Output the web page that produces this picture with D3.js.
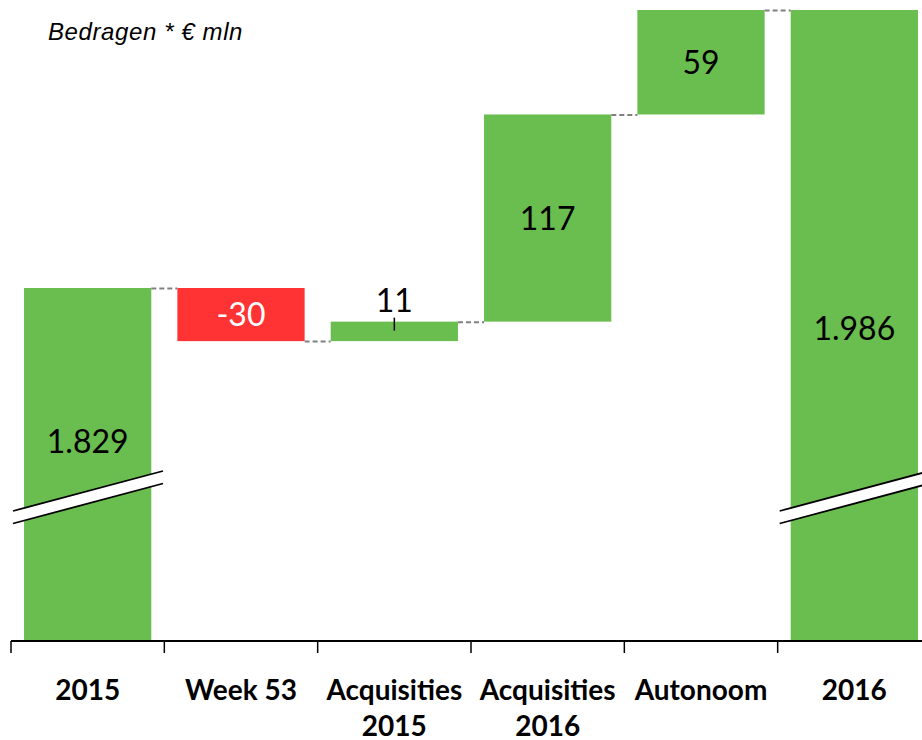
<!DOCTYPE html>
<html>
<head>
<meta charset="utf-8">
<script src="https://cdn.jsdelivr.net/npm/d3@7"></script>
<style>
  body { margin: 0; background: #fff; }
  svg { display: block; }
</style>
</head>
<body>
<div id="waterfall"></div>
<script>
// --------------------------------------
//  Data
// --------------------------------------

const categories = ["2015", "Week 53", "Acquisities 2015", "Acquisities 2016", "Autonoom", "2016"];
const values = [1829, -30, 11, 117, 59, 1986];
const isTotal = [true, false, false, false, false, true];
const labels = ["1.829", "-30", "11", "117", "59", "1.986"];

// --------------------------------------
//  Canvas
// --------------------------------------

const width = 922, height = 740;
const baseline = 641;

const svg = d3.select("#waterfall")
  .append("svg")
  .attr("width", width)
  .attr("height", height);

// running totals -> start/end of every bar
let running = 0;
const bars = categories.map((c, i) => {
  let start, end;
  if (isTotal[i]) { start = null; end = values[i]; running = values[i]; }
  else { start = running; end = running + values[i]; running = end; }
  return { cat: c, value: values[i], start, end, total: isTotal[i], label: labels[i] };
});

const x = d3.scaleBand()
  .domain(categories)
  .range([11, 931])
  .paddingInner(0.17)
  .paddingOuter(0.085);

// axis is broken: baseline sits at 1630
const y = d3.scaleLinear()
  .domain([1630.2, 1986])
  .range([baseline - 1, 10]);

const green = "#6abd4f", red = "#ff3333";

// bars
svg.selectAll("rect.bar")
  .data(bars)
  .join("rect")
    .attr("class", "bar")
    .attr("x", d => x(d.cat))
    .attr("width", x.bandwidth())
    .attr("y", d => d.total ? y(d.end) : y(Math.max(d.start, d.end)))
    .attr("height", d => d.total ? (baseline - y(d.end)) : Math.abs(y(d.start) - y(d.end)))
    .attr("fill", d => d.value < 0 ? red : green);

// dashed connectors
svg.selectAll("line.conn")
  .data(bars.slice(0, -1))
  .join("line")
    .attr("class", "conn")
    .attr("x1", d => x(d.cat) + x.bandwidth())
    .attr("x2", (d, i) => x(bars[i + 1].cat))
    .attr("y1", d => y(d.end) + 0.5)
    .attr("y2", d => y(d.end) + 0.5)
    .attr("stroke", "#808080")
    .attr("stroke-width", 2)
    .attr("stroke-dasharray", "5,3");

// break marks on total bars
const step = x.step();
bars.filter(d => d.total).forEach(d => {
  const x0 = x(d.cat) - step * 0.085 + 2;
  const x1 = x0 + 150;
  const yc = 491, dy = 20, gap = 12.5;
  const g = svg.append("g");
  g.append("path")
    .attr("d", `M${x0},${yc + dy} L${x1},${yc - dy} L${x1},${yc - dy + gap} L${x0},${yc + dy + gap} Z`)
    .attr("fill", "#fff");
  [0, gap].forEach(o => {
    g.append("line")
      .attr("x1", x0).attr("y1", yc + dy + o)
      .attr("x2", x1).attr("y2", yc - dy + o)
      .attr("stroke", "#000")
      .attr("stroke-width", 1.8);
  });
});

// value labels
const labelFont = "Lato, 'Open Sans', sans-serif";
svg.selectAll("text.val")
  .data(bars)
  .join("text")
    .attr("class", "val")
    .attr("x", d => x(d.cat) + x.bandwidth() / 2)
    .attr("y", (d, i) => {
      if (d.total) return i === 0 ? 441 : 328;
      if (Math.abs(d.value) < 20) return y(d.end) - 21;
      return (y(d.start) + y(d.end)) / 2;
    })
    .attr("dy", "0.36em")
    .attr("text-anchor", "middle")
    .attr("font-family", labelFont)
    .attr("font-size", 32)
    .attr("fill", d => d.value < 0 ? "#fff" : "#000")
    .text(d => d.label);

// leader line for small bar label
bars.filter(d => !d.total && Math.abs(d.value) < 20).forEach(d => {
  svg.append("line")
    .attr("x1", x(d.cat) + x.bandwidth() / 2)
    .attr("x2", x(d.cat) + x.bandwidth() / 2)
    .attr("y1", y(d.end) - 4)
    .attr("y2", y(d.end) + 9)
    .attr("stroke", "#000")
    .attr("stroke-width", 1.5);
});

// --------------------------------------
//  Axis
// --------------------------------------

const axis = svg.append("g");
axis.append("line")
  .attr("x1", 11).attr("x2", width)
  .attr("y1", baseline).attr("y2", baseline)
  .attr("stroke", "#000").attr("stroke-width", 2);

axis.selectAll("line.tick")
  .data(categories)
  .join("line")
    .attr("class", "tick")
    .attr("x1", d => x(d) - step * 0.085)
    .attr("x2", d => x(d) - step * 0.085)
    .attr("y1", baseline)
    .attr("y2", baseline + 12)
    .attr("stroke", "#000")
    .attr("stroke-width", 1.5);

axis.selectAll("text.cat")
  .data(categories)
  .join("text")
    .attr("class", "cat")
    .attr("x", d => x(d) + x.bandwidth() / 2)
    .attr("y", 700)
    .attr("text-anchor", "middle")
    .attr("font-family", labelFont)
    .attr("font-weight", 700)
    .attr("font-size", 28)
    .each(function(d) {
      const words = d.split(" ");
      const lines = /\d/.test(words[words.length - 1]) && words[0] !== "Week" && words.length > 1
        ? [words.slice(0, -1).join(" "), words[words.length - 1]]
        : [d];
      d3.select(this).selectAll("tspan")
        .data(lines)
        .join("tspan")
          .attr("x", x(d) + x.bandwidth() / 2)
          .attr("dy", (l, i) => i === 0 ? 0 : 36)
          .text(l => l);
    });

// title
svg.append("text")
  .attr("x", 48)
  .attr("y", 40)
  .attr("font-family", "'Liberation Sans', Arial, sans-serif")
  .attr("font-style", "italic")
  .attr("font-size", 24)
  .attr("letter-spacing", 0.6)
  .text("Bedragen * € mln");
</script>
</body>
</html>
